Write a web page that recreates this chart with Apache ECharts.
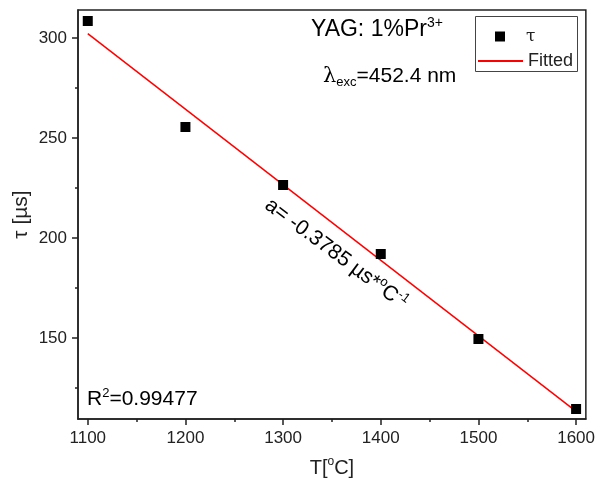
<!DOCTYPE html>
<html>
<head>
<meta charset="utf-8">
<script src="https://cdn.jsdelivr.net/npm/echarts@6/dist/echarts.min.js"></script>
<style>
  html, body { margin: 0; padding: 0; background: #fff; }
  #main { width: 598px; height: 485px; }
</style>
</head>
<body>
<div id="main"></div>
<script>
// measured lifetimes
const temps = [1100, 1200, 1300, 1400, 1500, 1600];
const tau = [308.5, 255.5, 226.5, 192, 149.5, 114.5];
// linear fit end points
const fitX = [1100, 1600];
const fitY = [302.2, 113.3];

const xTicks = [1100, 1200, 1300, 1400, 1500, 1600];
const xMinor = [1150, 1250, 1350, 1450, 1550];
const yTicks = [150, 200, 250, 300];
const yMinor = [125, 175, 225, 275];

const font = 'Liberation Sans, Arial, sans-serif';
const chart = echarts.init(document.getElementById('main'));

function rich(size) {
  return {
    n: { fontSize: size, fontFamily: font, color: '#222', lineHeight: size + 4 },
    s: { fontSize: Math.round(size * 0.6), fontFamily: font, color: '#222', verticalAlign: 'top', lineHeight: size + 4 },
    b: { fontSize: Math.round(size * 0.6), fontFamily: font, color: '#222', verticalAlign: 'bottom', lineHeight: size + 4 },
    l: { fontSize: size, fontFamily: 'DejaVu Serif, serif', color: '#222', lineHeight: size + 4 }
  };
}

chart.setOption({
  animation: false,
  grid: {
    left: 78, right: 11, top: 10, bottom: 66,
    show: true, borderColor: '#222', borderWidth: 1.5, backgroundColor: '#fff'
  },
  xAxis: [{
    type: 'value', min: 1090, max: 1610,
    name: '{n|T[}{s|o}{n|C]}', nameLocation: 'middle', nameGap: 37,
    nameTextStyle: { rich: rich(20) },
    axisLine: { show: true, lineStyle: { color: '#222', width: 1.5 } },
    axisTick: { show: true, length: 6, customValues: xTicks, lineStyle: { color: '#222', width: 1.5 } },
    axisLabel: { customValues: xTicks, margin: 11, fontSize: 17, fontFamily: font, color: '#222',
      formatter: v => String(v) },
    splitLine: { show: false }
  }, {
    type: 'value', min: 1090, max: 1610, position: 'bottom',
    axisLine: { show: false },
    axisTick: { show: true, length: 3, customValues: xMinor, lineStyle: { color: '#222', width: 1.5 } },
    axisLabel: { show: false },
    splitLine: { show: false }
  }],
  yAxis: [{
    type: 'value', min: 109.5, max: 314,
    name: 'τ [µs]', nameLocation: 'middle', nameGap: 46, nameRotate: 90, nameMoveOverlap: false,
    nameTextStyle: { fontSize: 21, fontFamily: font, color: '#222' },
    axisLine: { show: true, lineStyle: { color: '#222', width: 1.5 } },
    axisTick: { show: true, length: 6, customValues: yTicks, lineStyle: { color: '#222', width: 1.5 } },
    axisLabel: { customValues: yTicks, margin: 11, fontSize: 17, fontFamily: font, color: '#222' },
    splitLine: { show: false }
  }, {
    type: 'value', min: 109.5, max: 314, position: 'left',
    axisLine: { show: false },
    axisTick: { show: true, length: 3, customValues: yMinor, lineStyle: { color: '#222', width: 1.5 } },
    axisLabel: { show: false },
    splitLine: { show: false }
  }],
  legend: [{
    data: [{ name: 'τ', icon: 'rect' }],
    left: 490, top: 23, itemWidth: 10, itemHeight: 10,
    textStyle: { fontSize: 17, fontFamily: 'DejaVu Serif, serif', color: '#222', padding: [0, 0, 0, 16] }
  }, {
    data: [{ name: 'Fitted' }],
    left: 472, top: 47, itemWidth: 45, itemHeight: 2,
    textStyle: { fontSize: 18, fontFamily: font, color: '#222' }
  }],
  graphic: [
    { type: 'rect', shape: { x: 475.5, y: 16.5, width: 102, height: 55 },
      style: { fill: 'none', stroke: '#444', lineWidth: 1 }, z: 100 },
    { type: 'text', left: 311, top: 16, z: 100,
      style: { text: '{n|YAG: 1%Pr}{s|3+}', rich: rich(23) } },
    { type: 'text', left: 323, top: 66, z: 100,
      style: { text: '{l|λ}{b|exc}{n|=452.4 nm}', rich: rich(21) } },
    { type: 'text', left: 87, top: 387, z: 100,
      style: { text: '{n|R}{s|2}{n|=0.99477}', rich: rich(21) } },
    { type: 'text', x: 336, y: 254, rotation: -0.64, z: 100,
      style: { text: '{n|a= -0.3785 µs*}{s|o}{n|C}{s|-1}', align: 'center', verticalAlign: 'middle',
        rich: rich(21) } }
  ],
  series: [{
    name: 'τ', type: 'scatter', symbol: 'rect', symbolSize: 10,
    itemStyle: { color: '#000', opacity: 1 },
    data: temps.map((t, i) => [t, tau[i]]), z: 5
  }, {
    name: 'Fitted', type: 'line', showSymbol: false, symbol: 'none',
    lineStyle: { color: '#ff0000', width: 1.5 }, itemStyle: { color: '#ff0000' },
    data: fitX.map((t, i) => [t, fitY[i]])
  }]
});
</script>
</body>
</html>
